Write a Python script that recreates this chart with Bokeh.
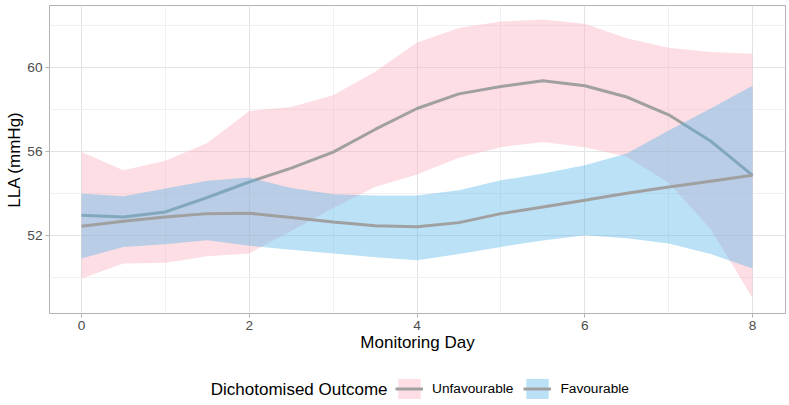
from bokeh.plotting import figure
from bokeh.layouts import column
from bokeh.models import FixedTicker, Legend, LegendItem, Range1d, Label
from bokeh.embed import file_html
from bokeh.resources import INLINE

# ---- data ----
days = [0, 0.5, 1, 1.5, 2, 2.5, 3, 3.5, 4, 4.5, 5, 5.5, 6, 6.5, 7, 7.5, 8]
unfav_mean = [52.95, 52.87, 53.11, 53.80, 54.54, 55.20, 55.97, 57.05, 58.05,
              58.75, 59.10, 59.38, 59.14, 58.60, 57.75, 56.50, 54.86]
unfav_upper = [55.97, 55.10, 55.55, 56.40, 57.93, 58.12, 58.68, 59.80, 61.20,
               61.90, 62.20, 62.30, 62.10, 61.40, 60.95, 60.75, 60.67]
unfav_lower = [49.93, 50.65, 50.68, 51.00, 51.13, 52.20, 53.30, 54.30, 54.90,
               55.70, 56.20, 56.45, 56.20, 55.75, 54.50, 52.30, 49.00]
fav_mean = [52.43, 52.67, 52.87, 53.03, 53.05, 52.85, 52.63, 52.45, 52.40,
            52.60, 53.03, 53.35, 53.67, 54.00, 54.30, 54.58, 54.86]
fav_upper = [53.99, 53.86, 54.23, 54.60, 54.75, 54.25, 53.95, 53.90, 53.90,
             54.15, 54.62, 54.95, 55.34, 55.90, 57.00, 58.05, 59.14]
fav_lower = [50.89, 51.44, 51.57, 51.76, 51.50, 51.30, 51.13, 50.95, 50.80,
             51.10, 51.44, 51.75, 52.00, 51.85, 51.60, 51.10, 50.41]

x_ticks = [0, 2, 4, 6, 8]
x_minor = [1, 3, 5, 7]
y_ticks = [52, 56, 60]
y_minor = [50, 54, 58, 62]
series_labels = ["Unfavourable", "Favourable"]
legend_title = "Dichotomised Outcome"
x_title = "Monitoring Day"
y_title = "LLA (mmHg)"

FONT = "Liberation Sans"
PINK = "#F9ACBB"
BLUE = "#56B4E9"
LINE = "#a0a0a0"

# ---------------- main plot ----------------
p = figure(frame_width=736, frame_height=308,
           min_border_left=49, min_border_right=4, min_border_top=5, min_border_bottom=57,
           x_range=Range1d(-0.3815, 8.393), y_range=Range1d(48.26, 62.97),
           output_backend="svg", toolbar_location=None)

p.background_fill_color = "white"
p.border_fill_color = "white"
p.outline_line_color = "#b3b3b3"
p.outline_line_width = 1

for ax, ticks, minor in ((p.xaxis, x_ticks, x_minor), (p.yaxis, y_ticks, y_minor)):
    ax.ticker = FixedTicker(ticks=ticks, minor_ticks=minor)
    ax.axis_line_color = None
    ax.major_tick_line_color = "#b3b3b3"
    ax.major_tick_out = 4
    ax.major_tick_in = 0
    ax.minor_tick_out = 0
    ax.minor_tick_in = 0
    ax.major_label_text_font = FONT
    ax.major_label_text_font_size = "13.7px"
    ax.major_label_text_color = "#4d4d4d"
    ax.axis_label_text_font = FONT
    ax.axis_label_text_font_size = "17px"
    ax.axis_label_text_font_style = "normal"
    ax.axis_label_text_color = "#000000"
    ax.major_label_standoff = 3
    ax.axis_label_standoff = 0

p.xaxis.axis_label = x_title
p.yaxis.axis_label = y_title

p.xgrid.ticker = FixedTicker(ticks=x_ticks, minor_ticks=x_minor)
p.ygrid.ticker = FixedTicker(ticks=y_ticks, minor_ticks=y_minor)
for g in (p.xgrid, p.ygrid):
    g.grid_line_color = "#e3e3e3"
    g.grid_line_width = 1
    g.minor_grid_line_color = "#f0f0f0"
    g.minor_grid_line_width = 1

p.varea(x=days, y1=unfav_lower, y2=unfav_upper, fill_color=PINK, fill_alpha=0.4)
p.line(days, unfav_mean, line_color=LINE, line_width=3)
p.varea(x=days, y1=fav_lower, y2=fav_upper, fill_color=BLUE, fill_alpha=0.4)
p.line(days, fav_mean, line_color=LINE, line_width=3)

# ---------------- legend strip (data units = page pixels) ----------------
lg = figure(frame_width=736, frame_height=35,
            min_border_left=49, min_border_right=4, min_border_top=0, min_border_bottom=0,
            x_range=Range1d(49, 785), y_range=Range1d(0, 35),
            x_axis_location=None, y_axis_location=None,
            output_backend="svg", toolbar_location=None)
lg.grid.visible = False
lg.outline_line_color = None
lg.background_fill_color = "white"
lg.border_fill_color = "white"

# invisible proxies (outside the visible range) that carry the legend key styles
proxy = [-100]
k_pink = lg.quad(left=proxy, right=proxy, bottom=proxy, top=proxy,
                 fill_color=PINK, fill_alpha=0.4, line_color=None)
k_uline = lg.line(x=proxy, y=proxy, line_color=LINE, line_width=3)
k_blue = lg.quad(left=proxy, right=proxy, bottom=proxy, top=proxy,
                 fill_color=BLUE, fill_alpha=0.4, line_color=None)
k_fline = lg.line(x=proxy, y=proxy, line_color=LINE, line_width=3)

legend = Legend(
    items=[LegendItem(label=series_labels[0], renderers=[k_pink, k_uline]),
           LegendItem(label=series_labels[1], renderers=[k_blue, k_fline])],
    orientation="horizontal",
    location=(395 - 49, 4),
    label_text_font=FONT,
    label_text_font_size="13.7px",
    label_text_color="#000000",
    glyph_width=28,
    glyph_height=25,
    label_height=25,
    label_standoff=9,
    spacing=10,
    padding=0,
    margin=0,
    border_line_color=None,
    background_fill_alpha=0,
)
lg.add_layout(legend)

lg.add_layout(Label(x=387, y=16.5, text=legend_title, text_align="right",
                    text_baseline="middle", text_font=FONT, text_font_size="17px",
                    text_color="#000000"))

layout = column(p, lg, spacing=0)
open("out.html", "w").write(file_html(layout, INLINE))
